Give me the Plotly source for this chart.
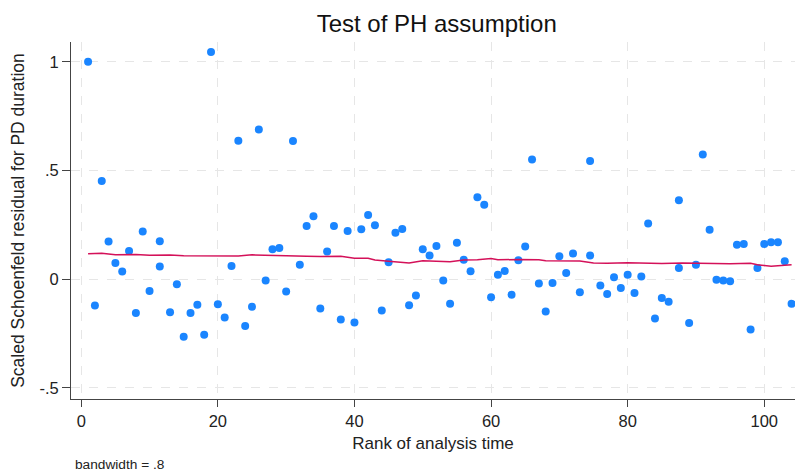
import plotly.graph_objects as go

# Scaled Schoenfeld residuals (rank of analysis time, residual)
rank = [1, 2, 3, 4, 5, 6, 7, 8, 9, 10, 11.5, 11.5, 13, 14, 15, 16, 17, 18, 19, 20,
        21, 22, 23, 24, 25, 26, 27, 28, 29, 30, 31, 32, 33, 34, 35, 36, 37, 38, 39, 40,
        41, 42, 43, 44, 45, 46, 47, 48, 49, 50, 51, 52, 53, 54, 55, 56, 57, 58, 59, 60,
        61, 62, 63, 64, 65, 66, 67, 68, 69, 70, 71, 72, 73, 74.5, 74.5, 76, 77, 78, 79, 80,
        81, 82, 83, 84, 85, 86, 87.5, 87.5, 89, 90, 91, 92, 93, 94, 95, 96, 97, 98, 99, 100,
        101, 102, 103, 104]
resid = [1.0, -0.121, 0.452, 0.173, 0.075, 0.035, 0.130, -0.155, 0.219, -0.054, 0.175, 0.058,
         -0.152, -0.023, -0.265, -0.155, -0.117, -0.256, 1.045, -0.115,
         -0.176, 0.061, 0.637, -0.215, -0.127, 0.688, -0.006, 0.138, 0.144, -0.057,
         0.636, 0.066, 0.245, 0.289, -0.135, 0.127, 0.245, -0.185, 0.222, -0.199,
         0.230, 0.295, 0.248, -0.144, 0.078, 0.214, 0.231, -0.120, -0.075, 0.138,
         0.109, 0.153, -0.006, -0.113, 0.168, 0.089, 0.037, 0.377, 0.343, -0.083,
         0.020, 0.038, -0.072, 0.087, 0.150, 0.550, -0.020, -0.149, -0.017, 0.106,
         0.029, 0.118, -0.060, 0.544, 0.109, -0.029, -0.068, 0.009, -0.041, 0.020,
         -0.064, 0.012, 0.256, -0.181, -0.086, -0.104, 0.363, 0.051, -0.201, 0.066,
         0.574, 0.228, -0.002, -0.006, -0.009, 0.158, 0.162, -0.231, 0.051, 0.162,
         0.170, 0.170, 0.083, -0.113]

# Lowess smooth
smooth_x = [1, 3, 5, 8, 10, 13, 15, 18, 20, 23, 25, 28, 30, 33, 35, 38, 40, 42, 43, 45,
            46, 48, 50, 52, 54, 56, 58, 60, 61, 64, 67, 68, 70, 73, 75, 77, 80, 82, 85,
            88, 90, 92, 95, 98, 99, 101, 104]
smooth_y = [0.117, 0.119, 0.113, 0.114, 0.110, 0.111, 0.108, 0.108, 0.110, 0.107, 0.112,
            0.108, 0.108, 0.106, 0.104, 0.105, 0.096, 0.096, 0.088, 0.083, 0.079, 0.074,
            0.085, 0.083, 0.080, 0.088, 0.089, 0.095, 0.089, 0.091, 0.090, 0.085, 0.085,
            0.084, 0.075, 0.073, 0.076, 0.075, 0.072, 0.074, 0.073, 0.074, 0.071, 0.073,
            0.066, 0.060, 0.066]

x_ticks = [0, 20, 40, 60, 80, 100]
y_ticks = [-0.5, 0, 0.5, 1]
y_tick_labels = ["-.5", "0", ".5", "1"]

FONT = "Liberation Sans, Arial, Helvetica, sans-serif"

fig = go.Figure()
fig.add_trace(go.Scatter(x=rank, y=resid, mode="markers",
                         marker=dict(color="#1a85ff", size=8, line=dict(width=0)),
                         showlegend=False, hoverinfo="x+y"))
fig.add_trace(go.Scatter(x=smooth_x, y=smooth_y, mode="lines",
                         line=dict(color="#d41159", width=1.5),
                         showlegend=False))

W, H = 795, 473
fig.update_layout(
    width=W, height=H,
    margin=dict(l=71, r=0, t=42, b=74),
    paper_bgcolor="white", plot_bgcolor="white",
    font=dict(family=FONT, color="#222222"),
    title=dict(text="Test of PH assumption", x=436.7 / W, xanchor="center",
               y=1 - 23.7 / H, yanchor="middle", font=dict(size=24, color="#111111")),
    xaxis=dict(range=[-1.5, 104.5], tickvals=x_ticks, ticks="outside", ticklen=7,
               tickcolor="#444444", showline=True, linecolor="#444444", linewidth=1,
               showgrid=True, gridcolor="#e6e6e6", griddash="dash", gridwidth=1,
               zeroline=False, tickfont=dict(size=16.5),
               title=dict(text="Rank of analysis time", font=dict(size=17), standoff=8)),
    yaxis=dict(range=[-0.551, 1.091], tickvals=y_ticks, ticktext=y_tick_labels,
               ticks="outside", ticklen=8, tickcolor="#444444",
               showline=True, linecolor="#444444", linewidth=1,
               showgrid=True, gridcolor="#e6e6e6", griddash="dash", gridwidth=1,
               zeroline=False, tickfont=dict(size=16.5),
               title=dict(text="Scaled Schoenfeld residual for PD duration",
                          font=dict(size=17.5), standoff=10)),
    annotations=[dict(text="bandwidth = .8", xref="paper", yref="paper",
                      x=(73.3 - 71) / 724, y=-(464 - 399) / 357, xanchor="left", yanchor="middle",
                      showarrow=False, font=dict(size=13.7, color="#222222"))],
)

# remove the default 8px page margin so the figure fills the 795x473 window exactly
fig.write_html("out.html",
               config={"displayModeBar": False},
               post_script="document.body.style.margin='0';document.body.style.overflow='hidden';")
